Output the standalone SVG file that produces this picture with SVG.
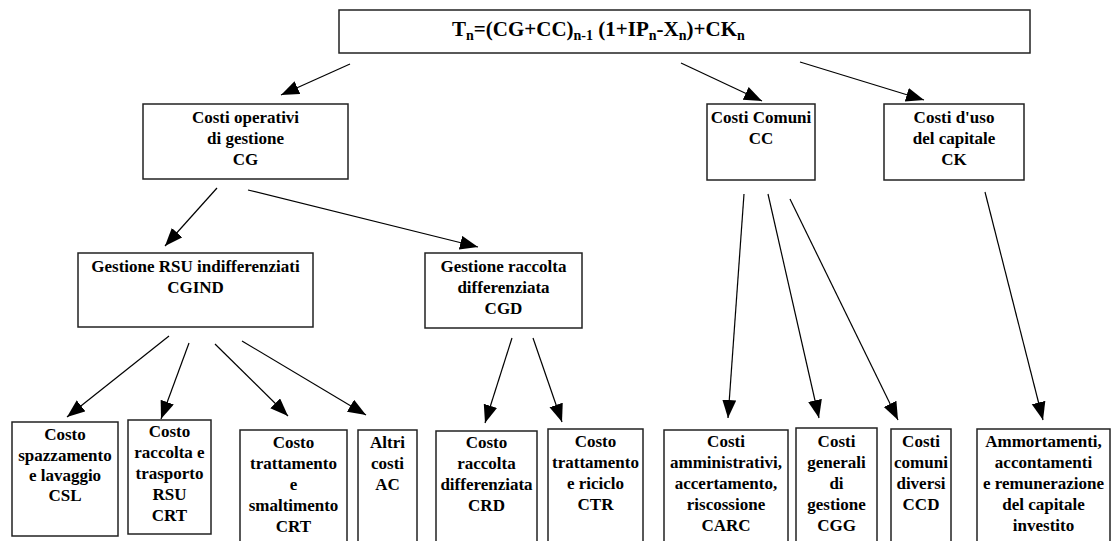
<svg xmlns="http://www.w3.org/2000/svg" width="1111" height="541" viewBox="0 0 1111 541">
<defs>
<marker id="ah" markerUnits="userSpaceOnUse" markerWidth="20" markerHeight="16" refX="18" refY="7" orient="auto">
<path d="M0,0 L18,7 L0,14 z" fill="#000"/>
</marker>
<style>
rect{fill:#fff;stroke:#222;stroke-width:1.5}
text{font-family:"Liberation Serif","Times New Roman",serif;font-weight:bold;font-size:17px;fill:#000;text-anchor:middle}
.f{font-size:21px;text-anchor:start}
.s{font-size:14px}
line{stroke:#000;stroke-width:1.2;marker-end:url(#ah)}
</style>
</defs>
<rect x="0" y="0" width="1111" height="541" style="fill:#fff;stroke:none"/>
<g id="connectors">
<line x1="350" y1="64" x2="281" y2="95"/>
<line x1="681" y1="63" x2="762" y2="101"/>
<line x1="800" y1="62" x2="924" y2="100"/>
<line x1="217" y1="188" x2="165" y2="246"/>
<line x1="248" y1="190" x2="478" y2="247"/>
<line x1="169" y1="336" x2="67" y2="417"/>
<line x1="189" y1="343" x2="161" y2="419"/>
<line x1="215" y1="344" x2="288" y2="416"/>
<line x1="242" y1="341" x2="366" y2="415"/>
<line x1="512" y1="338" x2="485" y2="423"/>
<line x1="533" y1="338" x2="562" y2="422"/>
<line x1="744" y1="194" x2="728" y2="418"/>
<line x1="768" y1="194" x2="819" y2="418"/>
<line x1="790" y1="199" x2="898" y2="420"/>
<line x1="985" y1="192" x2="1043" y2="420"/>
</g>
<g id="top">
<rect x="339" y="10" width="691" height="43"/>
<text class="f" x="452" y="36">T<tspan class="s" dy="4">n</tspan><tspan dy="-4">=(CG+CC)</tspan><tspan class="s" dy="4">n-1</tspan><tspan dy="-4"> (1+IP</tspan><tspan class="s" dy="4">n</tspan><tspan dy="-4">-X</tspan><tspan class="s" dy="4">n</tspan><tspan dy="-4">)+CK</tspan><tspan class="s" dy="4">n</tspan></text>
</g>
<g id="CG">
<rect x="143" y="104" width="205" height="75"/>
<text x="245.5" y="123">Costi operativi</text>
<text x="245.5" y="144">di gestione</text>
<text x="245.5" y="165">CG</text>
</g>
<g id="CC">
<rect x="707" y="104" width="108" height="76"/>
<text x="761" y="123">Costi Comuni</text>
<text x="761" y="144">CC</text>
</g>
<g id="CK">
<rect x="884" y="104" width="140" height="76"/>
<text x="954" y="123">Costi d'uso</text>
<text x="954" y="144">del capitale</text>
<text x="954" y="165">CK</text>
</g>
<g id="CGIND">
<rect x="78" y="253" width="235" height="74"/>
<text x="195.5" y="272">Gestione RSU indifferenziati</text>
<text x="195.5" y="293">CGIND</text>
</g>
<g id="CGD">
<rect x="425" y="253" width="157" height="75"/>
<text x="503.5" y="272">Gestione raccolta</text>
<text x="503.5" y="293">differenziata</text>
<text x="503.5" y="314">CGD</text>
</g>
<g id="CSL">
<rect x="12" y="422" width="106" height="114"/>
<text x="65" y="440">Costo</text>
<text x="65" y="461">spazzamento</text>
<text x="65" y="481">e lavaggio</text>
<text x="65" y="501">CSL</text>
</g>
<g id="CRT1">
<rect x="128" y="420" width="83" height="114"/>
<text x="169.5" y="437">Costo</text>
<text x="169.5" y="458">raccolta e</text>
<text x="169.5" y="479">trasporto</text>
<text x="169.5" y="500">RSU</text>
<text x="169.5" y="521">CRT</text>
</g>
<g id="CRT2">
<rect x="240" y="430" width="107" height="120"/>
<text x="293.5" y="448">Costo</text>
<text x="293.5" y="469">trattamento</text>
<text x="293.5" y="490">e</text>
<text x="293.5" y="511">smaltimento</text>
<text x="293.5" y="532">CRT</text>
</g>
<g id="AC">
<rect x="358" y="430" width="59" height="120"/>
<text x="387.5" y="448">Altri</text>
<text x="387.5" y="469">costi</text>
<text x="387.5" y="490">AC</text>
</g>
<g id="CRD">
<rect x="436" y="431" width="101" height="120"/>
<text x="486.5" y="448">Costo</text>
<text x="486.5" y="469">raccolta</text>
<text x="486.5" y="490">differenziata</text>
<text x="486.5" y="511">CRD</text>
</g>
<g id="CTR">
<rect x="548" y="429" width="95" height="120"/>
<text x="595.5" y="447">Costo</text>
<text x="595.5" y="468">trattamento</text>
<text x="595.5" y="489">e riciclo</text>
<text x="595.5" y="510">CTR</text>
</g>
<g id="CARC">
<rect x="664" y="430" width="124" height="120"/>
<text x="726" y="447">Costi</text>
<text x="726" y="468">amministrativi,</text>
<text x="726" y="489">accertamento,</text>
<text x="726" y="510">riscossione</text>
<text x="726" y="531">CARC</text>
</g>
<g id="CGG">
<rect x="796" y="428" width="81" height="120"/>
<text x="836.5" y="447">Costi</text>
<text x="836.5" y="468">generali</text>
<text x="836.5" y="489">di</text>
<text x="836.5" y="510">gestione</text>
<text x="836.5" y="531">CGG</text>
</g>
<g id="CCD">
<rect x="891" y="429" width="60" height="120"/>
<text x="921" y="447">Costi</text>
<text x="921" y="468">comuni</text>
<text x="921" y="489">diversi</text>
<text x="921" y="510">CCD</text>
</g>
<g id="CAMM">
<rect x="977" y="429" width="133" height="120"/>
<text x="1043.5" y="447">Ammortamenti,</text>
<text x="1043.5" y="468">accontamenti</text>
<text x="1043.5" y="489">e remunerazione</text>
<text x="1043.5" y="510">del capitale</text>
<text x="1043.5" y="531">investito</text>
</g>
</svg>
